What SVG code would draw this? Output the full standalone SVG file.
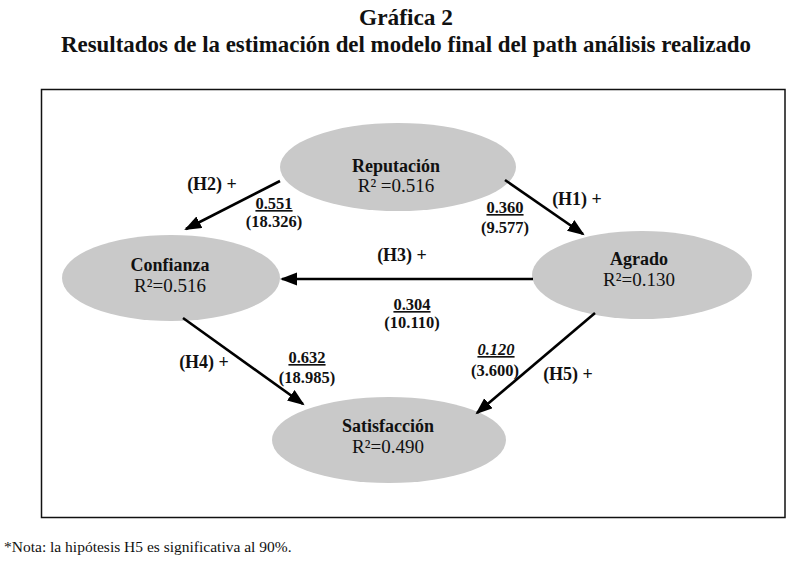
<svg xmlns="http://www.w3.org/2000/svg" width="789" height="568" viewBox="0 0 789 568">
<style>
.title{font-family:"Liberation Serif",serif;font-weight:bold;fill:#111;text-anchor:middle}
.node{fill:#c9c9c9;stroke:none}
.nname{font-family:"Liberation Serif",serif;font-weight:bold;font-size:18px;fill:#111;text-anchor:middle}
.nr2{font-family:"Liberation Serif",serif;font-size:19px;fill:#111;text-anchor:middle}
.hl{font-family:"Liberation Serif",serif;font-weight:bold;font-size:18px;fill:#111;text-anchor:middle}
.num{font-family:"Liberation Serif",serif;font-weight:bold;font-size:16.5px;fill:#111;text-anchor:middle}
.u{text-decoration:underline}
.edge{stroke:#000;stroke-width:2.6;fill:none;marker-end:url(#ah)}
.note{font-family:"Liberation Serif",serif;font-size:15.5px;fill:#111}
</style>
<defs>
<marker id="ah" markerUnits="userSpaceOnUse" markerWidth="20" markerHeight="14" refX="15" refY="6.5" orient="auto">
<path d="M0,0 L17,6.5 L0,13 z" fill="#000"/>
</marker>
</defs>
<rect width="789" height="568" fill="#fff"/>
<text class="title" x="406" y="25" font-size="23" textLength="94" lengthAdjust="spacingAndGlyphs">Gráfica 2</text>
<text class="title" x="406" y="52" font-size="23" textLength="690" lengthAdjust="spacingAndGlyphs">Resultados de la estimación del modelo final del path análisis realizado</text>
<rect x="41.5" y="89.5" width="743.5" height="428" fill="none" stroke="#111" stroke-width="1.5"/>
<g id="reputacion">
<ellipse class="node" cx="398" cy="167" rx="118" ry="44"/>
<text class="nname" x="396" y="172">Reputación</text>
<text class="nr2" x="396" y="192">R² =0.516</text>
</g>
<g id="confianza">
<ellipse class="node" cx="171" cy="278" rx="109" ry="43"/>
<text class="nname" x="170" y="271">Confianza</text>
<text class="nr2" x="170" y="292">R²=0.516</text>
</g>
<g id="agrado">
<ellipse class="node" cx="642" cy="275" rx="110" ry="44"/>
<text class="nname" x="639" y="265">Agrado</text>
<text class="nr2" x="639" y="286">R²=0.130</text>
</g>
<g id="satisfaccion">
<ellipse class="node" cx="389" cy="440" rx="117" ry="43"/>
<text class="nname" x="388" y="432">Satisfacción</text>
<text class="nr2" x="388" y="453">R²=0.490</text>
</g>
<g id="connectors">
<line class="edge" x1="280" y1="181" x2="186" y2="229"/>
<line class="edge" x1="505" y1="180" x2="583" y2="234"/>
<line class="edge" x1="533" y1="279" x2="282" y2="279"/>
<line class="edge" x1="183" y1="318" x2="303" y2="404"/>
<line class="edge" x1="595" y1="313" x2="477" y2="413"/>
<text class="hl" x="212" y="190">(H2) +</text>
<text class="num u" x="274" y="209">0.551</text>
<text class="num" x="274" y="227">(18.326)</text>
<text class="hl" x="577" y="205">(H1) +</text>
<text class="num u" x="505" y="213">0.360</text>
<text class="num" x="505" y="233">(9.577)</text>
<text class="hl" x="402" y="261">(H3) +</text>
<text class="num u" x="412" y="310">0.304</text>
<text class="num" x="412" y="328">(10.110)</text>
<text class="hl" x="204" y="368">(H4) +</text>
<text class="num u" x="307" y="363">0.632</text>
<text class="num" x="307" y="383">(18.985)</text>
<text class="num u" x="496" y="355" font-style="italic">0.120</text>
<text class="num" x="495" y="376">(3.600)</text>
<text class="hl" x="568" y="380">(H5) +</text>
</g>
<text class="note" x="4" y="552">*Nota: la hipótesis H5 es significativa al 90%.</text>
</svg>
